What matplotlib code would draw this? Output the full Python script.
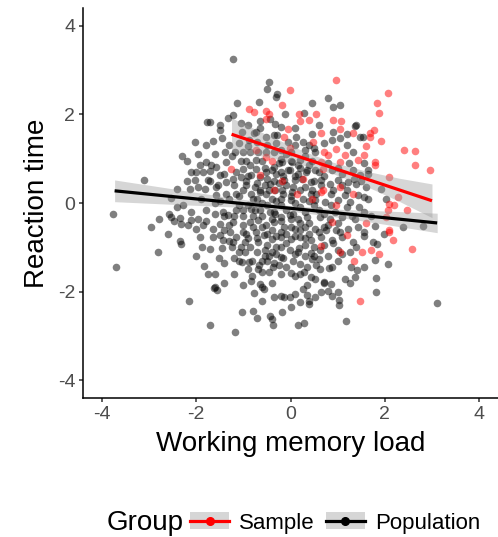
import matplotlib
matplotlib.use("Agg")
import matplotlib.pyplot as plt
from matplotlib.lines import Line2D
from matplotlib.patches import Patch
from matplotlib.legend_handler import HandlerTuple

plt.rcParams['font.family'] = ['Liberation Sans', 'DejaVu Sans']
plt.rcParams['axes.unicode_minus'] = False

# ---- data ----
population_points = [
    (-1.21, 3.25), (-0.45, 2.73), (-0.49, 2.57), (-1.13, 2.26), (-0.66, 2.28), (-1.32, 1.92), (-1.21, 1.98),
    (-1.77, 1.83), (-1.70, 1.83), (-1.49, 1.65), (-2.02, 1.38), (-1.64, 1.40), (-1.45, 1.47), (-1.06, 1.81),
    (-0.77, 1.58), (-1.02, 1.60), (-0.89, 1.42), (-0.74, 1.60), (-0.64, 1.70), (-0.51, 1.49), (-0.36, 1.54),
    (-0.32, 1.79), (-0.43, 1.90), (-0.30, 2.40), (-0.28, 2.47),
    (0.45, 2.26), (0.79, 2.37), (0.91, 2.17), (1.06, 2.21), (-0.11, 2.00), (0.28, 2.03), (1.36, 1.73),
    (0.87, 1.42), (1.04, 1.46), (-0.21, 1.72), (-0.28, 1.54), (-0.06, 1.38), (0.11, 1.49), (0.26, 1.38),
    (0.40, 1.31), (1.38, 1.76), (1.47, 1.49), (1.53, 1.49), (1.20, 1.30),
    (-3.10, 0.52), (-3.77, -0.25), (-2.40, 0.32), (-2.13, 0.32), (-2.53, 0.11), (-2.28, -0.05), (-2.79, -0.36),
    (-2.96, -0.54), (-2.57, -0.25), (-2.53, -0.32), (-2.47, -0.41), (-2.34, -0.34), (-2.32, -0.47), (-2.17, -0.50),
    (-2.34, -0.86), (-2.11, -0.20), (-2.11, 0.70), (-2.11, -0.38), (-2.30, 1.05), (-2.20, 0.95), (-2.32, -0.93),
    (-2.81, -1.11), (-3.70, -1.45), (-2.15, -2.21),
    (-1.83, -1.42), (-1.60, -1.90), (-1.55, -1.97), (-1.40, -1.81), (-0.77, -2.03), (-0.57, -1.94), (-1.02, -2.46),
    (-0.79, -2.44), (-0.70, -2.60), (-1.70, -2.76), (-1.17, -2.92), (-0.43, -2.55), (-0.40, -2.62), (-0.38, -2.76),
    (-0.36, -2.12), (-0.64, -1.83), (-0.60, -1.90), (-0.81, -1.65), (-0.83, -1.76), (-0.68, -1.49), (-0.60, -1.56),
    (-0.45, -1.56), (-0.66, -1.40), (-1.19, -1.24), (-1.09, -1.31), (-1.02, -1.33), (-0.87, -1.33), (-0.81, -1.31),
    (-1.51, -1.24), (-1.70, -1.04), (-1.87, -0.99), (-1.45, -1.02), (-1.23, -0.99), (-1.06, -0.99), (-0.96, -1.10),
    (-0.55, -1.20), (-0.50, -1.30), (-0.40, -1.10), (-0.35, -1.35), (-0.30, -1.00), (-1.62, -1.92), (-0.45, -1.20),
    (-0.38, -1.45), (-0.55, -1.05),
    (-0.19, -2.46), (0.15, -2.76), (0.28, -2.70), (1.17, -2.66), (1.02, -2.30), (1.02, -2.19), (0.21, -2.23),
    (0.40, -2.28), (0.40, -2.21), (0.51, -2.12), (0.36, -2.08), (0.26, -1.94), (0.09, -2.06), (-0.02, -2.12),
    (-0.13, -2.12), (-0.21, -2.10), (0.79, -1.99), (0.89, -2.10), (1.00, -2.01), (0.85, -1.83), (0.72, -1.81),
    (1.15, -1.72), (1.26, -1.81), (1.36, -1.67), (1.40, -1.51), (1.28, -1.45), (0.00, -1.58), (0.09, -1.65),
    (0.28, -1.56), (0.43, -1.67), (0.53, -1.72), (0.70, -1.78), (0.62, -1.49), (0.81, -1.47), (0.89, -1.45),
    (0.45, -1.26), (0.60, -1.26), (-0.21, -0.99), (-0.02, -1.06), (0.19, -1.02), (0.43, -1.13), (0.62, -1.06),
    (1.26, -1.10), (1.38, -0.99), (-0.15, -1.24), (0.06, -1.30), (0.20, -1.38), (0.30, -1.20), (0.80, -1.20),
    (1.00, -1.30), (1.10, -1.15), (-0.25, -1.40), (-0.10, -1.45), (0.15, -1.10), (0.35, -1.45), (-0.21, -1.22),
    (1.79, -1.29), (2.06, -1.38), (1.55, -1.45), (1.81, -1.69), (1.81, -2.01), (3.11, -2.26), (1.83, -0.93),
    (1.64, 0.75), (1.64, 0.66), (1.91, 0.32), (2.02, 0.09), (1.55, 0.14), (1.64, 0.09), (2.81, -0.52),
    (2.38, -0.54), (1.79, -0.52), (1.98, -0.70), (1.55, -0.66), (1.55, -0.75), (1.74, -0.88), (1.55, 0.90),
    (1.50, 0.50), (1.60, 0.35), (1.55, -0.20), (1.70, -0.30),
    (-1.38, 1.15), (-1.17, 1.15), (-1.00, 1.15), (-0.85, 1.15), (-0.68, 1.15), (-0.53, 1.15), (-0.36, 1.15),
    (-1.96, 1.11), (-1.79, 0.93), (-1.68, 0.86), (-2.00, 0.70), (-1.85, 0.70), (-1.70, 0.72), (-1.74, 0.52),
    (-1.36, 0.93), (-1.00, 0.77), (-1.06, 0.59), (-1.21, 0.54), (-1.36, 0.47), (-1.53, 0.41), (-1.96, 0.36),
    (-1.81, 0.32), (-1.57, 0.36), (-0.74, 0.97), (-0.74, 0.77), (-0.83, 0.63), (-0.64, 0.59), (-0.51, 0.70),
    (-0.36, 0.81), (-0.43, 0.43), (-0.32, 0.29), (-0.94, 0.41), (-1.00, 0.29), (-0.83, 0.20), (-0.64, 0.29),
    (-0.53, 0.20), (-1.15, 0.20), (-1.36, 0.20), (-1.57, 0.18), (-1.79, -0.16), (-1.96, -0.36), (-1.43, -0.20),
    (-1.32, -0.27), (-1.15, -0.16), (-1.00, -0.16), (-0.83, -0.14), (-0.64, -0.16), (-0.43, -0.20), (-0.32, -0.25),
    (-2.00, -0.59), (-1.85, -0.50), (-1.64, -0.59), (-1.49, -0.47), (-1.21, -0.43), (-1.00, -0.50), (-0.85, -0.43),
    (-0.68, -0.38), (-0.53, -0.50), (-0.36, -0.43), (-1.91, -0.77), (-1.64, -0.77), (-1.49, -0.72), (-1.28, -0.66),
    (-1.15, -0.77), (-0.94, -0.70), (-0.74, -0.66), (-0.57, -0.72), (-0.40, -0.81), (-1.21, -0.88), (-0.96, -0.88),
    (-0.68, -0.88), (-1.43, -0.84), (-1.91, 0.86), (-2.02, 0.52), (-1.57, 0.81), (-1.49, 0.63),
    (-0.21, 1.20), (0.00, 1.15), (0.30, 1.20), (0.53, 1.15), (1.32, 1.15), (-0.17, 0.93), (0.04, 0.93),
    (0.21, 0.97), (0.40, 0.86), (-0.21, 0.70), (-0.02, 0.75), (0.15, 0.66), (0.32, 0.70), (0.51, 0.75),
    (0.89, 0.75), (1.10, 0.66), (1.32, 0.75), (1.47, 0.63), (-0.13, 0.52), (0.09, 0.52), (0.43, 0.47),
    (0.64, 0.52), (0.83, 0.43), (1.00, 0.52), (1.21, 0.47), (1.38, 0.43), (-0.17, 0.29), (0.04, 0.25),
    (0.21, 0.29), (0.43, 0.20), (0.85, 0.20), (1.15, 0.18), (1.43, 0.18), (-0.21, 0.09), (0.00, 0.07),
    (0.26, 0.09), (0.51, 0.07), (0.74, 0.02), (1.00, 0.07), (1.26, 0.02), (-0.21, -0.32), (-0.02, -0.27),
    (0.15, -0.36), (0.36, -0.32), (0.62, -0.32), (0.83, -0.36), (1.10, -0.32), (1.36, -0.36), (-0.13, -0.54),
    (0.09, -0.59), (0.30, -0.54), (0.51, -0.59), (0.72, -0.54), (0.96, -0.61), (1.21, -0.59), (1.43, -0.54),
    (-0.21, -0.77), (0.00, -0.81), (0.21, -0.77), (0.43, -0.84), (0.64, -0.77), (0.89, -0.84), (1.10, -0.77),
    (1.32, -0.88),
    (-0.90, 0.60), (-0.70, 0.45), (-0.50, 0.55), (-0.30, 0.65), (-0.10, 0.40), (0.10, 0.60), (0.30, 0.35),
    (0.50, 0.50), (-0.80, 0.10), (-0.60, 0.00), (-0.40, 0.10), (-0.20, -0.05), (0.00, 0.15), (0.20, -0.10),
    (0.40, 0.05), (0.60, -0.15), (-1.00, -0.30), (-0.80, -0.55), (-0.60, -0.30), (-0.40, -0.60), (-0.20, -0.40),
    (0.00, -0.55), (0.20, -0.45), (0.40, -0.70), (-0.70, -0.80), (-0.50, -0.95), (-0.30, -0.75), (-0.10, -0.90),
    (0.10, -0.75), (0.30, -0.95), (-1.20, 0.40), (-1.10, -0.05), (-1.30, -0.50), (-0.95, 0.95), (-0.25, 0.90),
    (0.15, 0.85), (0.70, 0.60), (0.85, -0.05), (1.00, -0.45), (1.20, 0.30), (-0.55, 0.80), (-0.15, 0.20),
    (0.05, -0.25), (-0.35, -0.20), (-0.75, -0.15), (-0.05, 0.75), (0.35, 0.75), (-0.45, 0.30), (-0.65, 0.25),
    (-0.25, 0.45), (0.55, 0.20), (0.75, -0.60), (-0.85, -1.00), (0.50, -1.00), (0.90, -0.90), (-1.40, -0.30),
    (-1.60, 0.00), (-1.80, -0.40), (-1.70, 0.50), (-1.90, 0.10),
    (-1.30, 1.30), (-1.10, 1.35), (-0.90, 1.28), (-0.70, 1.38), (-0.50, 1.30), (-0.30, 1.35), (-0.10, 1.10),
    (0.10, 1.30), (0.30, 1.05), (0.50, 1.25), (0.70, 1.35), (-1.25, 1.05), (-1.05, 0.95), (-0.85, 0.85),
    (-0.60, 0.95), (-0.40, 0.75), (-0.20, 1.00), (0.00, 0.95), (0.20, 0.80), (0.45, 0.95), (0.60, 0.70),
    (0.80, 0.90), (1.00, 0.80), (-1.40, 0.65), (-1.15, 0.70), (-0.95, 0.50), (-0.75, 0.35), (-0.55, 0.40),
    (-0.35, 0.50), (-0.15, 0.60), (0.05, 0.35), (0.25, 0.55), (0.45, 0.30), (0.65, 0.40), (0.90, 0.30),
    (1.10, 0.40), (-1.50, 0.05), (-1.30, 0.10), (-1.10, 0.15), (-0.90, -0.05), (-0.70, 0.10), (-0.50, -0.05),
    (-0.30, 0.05), (-0.10, -0.15), (0.10, 0.00), (0.30, -0.20), (0.50, -0.05), (0.70, -0.25), (0.95, -0.20),
    (1.20, -0.10), (-1.60, -0.25), (-1.40, -0.60), (-1.20, -0.30), (-1.00, -0.65), (-0.80, -0.30), (-0.60, -0.55),
    (-0.40, -0.35), (-0.20, -0.65), (0.00, -0.35), (0.20, -0.60), (0.40, -0.45), (0.60, -0.65), (0.80, -0.50),
    (1.05, -0.65), (-1.30, -0.85), (-1.10, -1.10), (-0.90, -0.80), (-0.70, -1.10), (-0.50, -0.70), (-0.30, -1.15),
    (-0.10, -0.70), (0.10, -1.15), (0.30, -0.80), (0.50, -1.20), (0.70, -0.95), (1.00, -1.05), (-0.60, -1.30),
    (-0.20, -1.60), (0.20, -1.60), (0.55, -1.40), (-0.90, -1.50), (-1.20, -1.60), (-1.40, -1.35), (-1.60, -1.60),
    (-1.00, -1.85), (-0.40, -1.80), (0.35, -1.85), (0.65, -2.00), (-0.60, -2.20), (0.00, -2.35), (-1.60, 1.10),
    (-1.80, 1.30), (-2.20, 0.50), (-2.40, -0.10), (-2.60, -0.70), (-2.00, -1.20), (-1.75, -1.60), (1.30, -0.30),
    (1.45, -0.10), (1.35, 0.55), (1.25, 0.90), (-0.65, 1.85), (0.10, 1.70), (0.60, 1.75), (0.90, 1.60),
    (-1.50, 1.75), (-0.90, 1.75), (0.45, 1.55), (1.20, 1.55),
]
sample_points = [
    (-0.87, 2.12), (-0.77, 2.06), (-0.51, 2.08), (-0.45, 2.01), (-0.51, 1.90),
    (0.96, 2.77), (-0.02, 2.54), (-0.19, 2.20), (0.17, 2.00), (0.21, 1.84), (0.40, 1.88), (0.55, 2.00),
    (0.91, 1.88), (1.08, 1.84), (1.04, 1.68), (0.64, 1.57), (1.32, 1.57), (-0.06, 1.68), (-0.13, 1.48),
    (0.47, 1.37),
    (2.06, 2.48), (1.83, 2.25), (1.87, 2.03), (1.76, 1.65), (1.68, 1.58), (1.68, 1.49), (1.91, 1.40),
    (1.60, 1.29),
    (2.40, 1.20), (2.64, 1.17), (2.64, 0.86), (2.96, 0.75), (1.79, 0.93), (1.79, 0.86), (2.09, 0.59),
    (2.28, 0.14), (2.19, -0.04), (2.09, -0.02), (2.47, -0.16), (2.06, -0.16), (2.02, -0.32), (2.09, -0.61),
    (2.17, -0.84), (1.55, 1.08), (2.09, -0.66),
    (2.57, -1.04), (1.70, -1.06), (1.87, -1.15), (1.51, -1.10), (1.47, -2.21), (0.64, -0.97), (1.04, -1.11),
    (0.72, 1.15), (0.79, 1.08), (0.96, 1.22), (1.15, 1.08), (1.43, 0.97), (1.04, 0.93), (0.64, 0.93),
    (0.68, 0.77), (0.26, 0.54), (0.68, 0.29), (0.64, 0.25), (1.04, 0.36), (1.32, 0.20), (0.96, -0.05),
    (0.89, -0.43), (-0.02, 1.25), (-0.17, 0.50), (0.13, 0.20), (0.45, 0.10),
    (-1.26, 0.77), (-0.74, 1.20), (-0.53, 1.04), (-0.64, 0.63), (-0.36, 0.29), (-0.40, 0.95),
    (1.20, -0.72), (1.60, -0.45), (1.35, -1.30),
]

# fitted regression lines with 95% bands
pop_fit_x = [-3.73, -2.5, -1.2, -0.1, 1.0, 2.0, 3.11]
pop_fit_y = [0.275, 0.145, 0.007, -0.109, -0.226, -0.332, -0.45]
pop_ci_lo = [0.03, -0.03, -0.09, -0.17, -0.32, -0.48, -0.67]
pop_ci_hi = [0.52, 0.32, 0.11, -0.05, -0.14, -0.18, -0.23]

sample_fit_x = [-1.25, -0.5, 0.3, 0.9, 1.6, 2.3, 3.0]
sample_fit_y = [1.551, 1.287, 1.004, 0.792, 0.545, 0.298, 0.051]
sample_ci_lo = [1.18, 1.04, 0.84, 0.66, 0.38, 0.04, -0.33]
sample_ci_hi = [1.92, 1.54, 1.16, 0.92, 0.72, 0.56, 0.43]

groups = ["Sample", "Population"]
group_colors = {"Sample": "#FF0000", "Population": "#000000"}
x_ticks = [-4, -2, 0, 2, 4]
y_ticks = [-4, -2, 0, 2, 4]

# ---- figure ----
W, H = 498, 537
fig = plt.figure(figsize=(W / 100, H / 100), dpi=100)
ax = fig.add_axes([83 / W, 1 - 398 / H, (498 - 83) / W, (398 - 8) / H])

px, py = zip(*population_points)
sx, sy = zip(*sample_points)
ax.scatter(px, py, s=30, color=group_colors["Population"], alpha=0.5, linewidths=0, zorder=2)
ax.scatter(sx, sy, s=30, color=group_colors["Sample"], alpha=0.5, linewidths=0, zorder=2)

ax.fill_between(sample_fit_x, sample_ci_lo, sample_ci_hi, color="#999999", alpha=0.4, linewidth=0, zorder=3)
ax.fill_between(pop_fit_x, pop_ci_lo, pop_ci_hi, color="#999999", alpha=0.4, linewidth=0, zorder=3)
ax.plot(sample_fit_x, sample_fit_y, color=group_colors["Sample"], lw=2.3, zorder=4, solid_capstyle="butt")
ax.plot(pop_fit_x, pop_fit_y, color=group_colors["Population"], lw=2.3, zorder=4, solid_capstyle="butt")

ax.set_xlim(-4.4, 4.4)
ax.set_ylim(-4.4, 4.4)
ax.set_xticks(x_ticks)
ax.set_yticks(y_ticks)
ax.set_xticklabels([str(t) for t in x_ticks])
ax.set_yticklabels([str(t) for t in y_ticks])
for sp in ["top", "right"]:
    ax.spines[sp].set_visible(False)
for sp in ["left", "bottom"]:
    ax.spines[sp].set_linewidth(1.1)
    ax.spines[sp].set_color("black")
ax.tick_params(axis="both", length=3, width=1.1, color="#333333", labelcolor="#4d4d4d",
               labelsize=14, pad=2.5)
ax.set_xlabel("Working memory load", fontsize=20, labelpad=6)
ax.set_ylabel("Reaction time", fontsize=20, labelpad=6)

# legend at bottom
handles = []
for g in groups:
    patch = Patch(facecolor="#999999", alpha=0.4, edgecolor="none")
    line = Line2D([], [], color=group_colors[g], lw=2.3, marker="o", markersize=5.5)
    handles.append((patch, line))
fig.text(107 / W, 1 - 523 / H, "Group", fontsize=20, va="center", ha="left")
fig.legend(handles, groups, handler_map={tuple: HandlerTuple(ndivide=1, pad=0)},
           ncol=2, loc="center", bbox_to_anchor=(335 / W, 1 - 523 / H), frameon=False,
           fontsize=16, handlelength=1.75, handleheight=0.8, handletextpad=0.45,
           columnspacing=0.5, borderaxespad=0, borderpad=0)

fig.savefig("out.png", dpi=100)
